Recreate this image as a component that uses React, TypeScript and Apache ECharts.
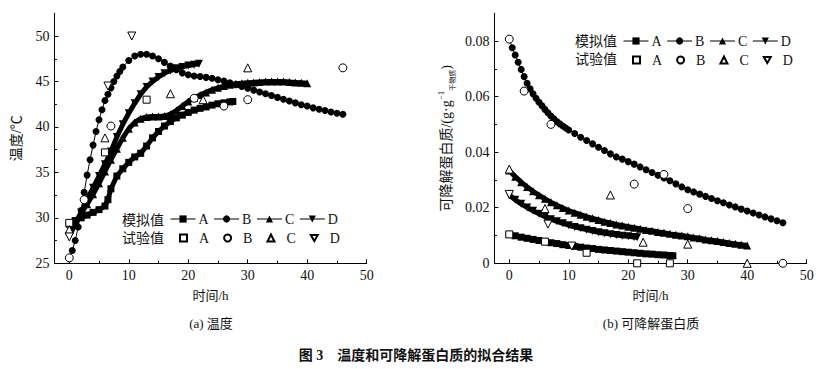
import React, { useEffect, useRef } from 'react';
import * as echarts from 'echarts';

// ---------- Data: (a) temperature ----------
const tA_T = [0, 1, 2, 3, 4, 5, 6, 6.5, 7, 8, 9, 10, 11, 12, 13, 14, 15, 16, 17, 18, 19, 20, 21, 22, 23, 24, 25, 26, 27, 27.5];
const A_T = [29.3, 29.7, 30.0, 30.3, 30.6, 30.9, 31.3, 32.0, 33.2, 34.6, 35.4, 36.1, 36.7, 37.1, 37.9, 38.8, 39.5, 40.1, 40.6, 41.0, 41.3, 41.6, 41.85, 42.05, 42.2, 42.4, 42.55, 42.65, 42.75, 42.8];

const tB_T = [0, 0.5, 1, 1.5, 2, 2.5, 3, 3.5, 4, 4.5, 5, 5.5, 6, 6.5, 7, 7.5, 8, 8.5, 9, 10, 11, 12, 13, 14, 15, 16, 17, 18, 19, 20, 21, 22, 23, 24, 25, 26, 27, 28, 29, 30, 31, 32, 33, 34, 35, 36, 37, 38, 39, 40, 41, 42, 43, 44, 45, 46];
const B_T = [25.5, 26.4, 27.5, 29.0, 30.8, 32.8, 34.7, 36.4, 38.0, 39.5, 40.8, 41.9, 42.9, 43.6, 44.3, 45.0, 45.6, 46.1, 46.6, 47.3, 47.8, 48.0, 48.0, 47.8, 47.5, 47.1, 46.7, 46.3, 45.95, 45.75, 45.6, 45.55, 45.45, 45.35, 45.2, 45.05, 44.85, 44.65, 44.45, 44.25, 44.05, 43.85, 43.65, 43.45, 43.25, 43.05, 42.85, 42.65, 42.45, 42.3, 42.1, 41.95, 41.8, 41.65, 41.5, 41.4];

const tC_T = [0, 1, 2, 3, 4, 5, 6, 7, 8, 9, 10, 11, 12, 13, 14, 15, 16, 17, 18, 19, 20, 21, 22, 23, 24, 25, 26, 27, 28, 29, 30, 31, 32, 33, 34, 35, 36, 37, 38, 39, 40];
const C_T = [28.6, 29.5, 30.5, 31.5, 32.6, 33.8, 35.1, 36.4, 37.6, 38.8, 39.8, 40.5, 40.9, 41.1, 41.15, 41.15, 41.2, 41.4, 41.8, 42.3, 42.8, 43.2, 43.5, 43.8, 44.1, 44.3, 44.5, 44.65, 44.75, 44.8, 44.85, 44.9, 44.95, 45.0, 45.0, 45.0, 45.0, 44.95, 44.9, 44.85, 44.8];

const tD_T = [0, 1, 2, 3, 4, 5, 6, 7, 8, 9, 10, 11, 12, 13, 14, 15, 16, 17, 18, 19, 20, 21, 21.8];
const D_T = [28.0, 29.3, 30.6, 32.0, 33.3, 34.6, 35.9, 37.3, 38.9, 40.3, 41.5, 42.6, 43.6, 44.4, 45.0, 45.5, 45.9, 46.2, 46.45, 46.6, 46.75, 46.85, 46.95];

const expA_T = [[0, 29.45], [6, 37.2], [13, 43.0]];
const expB_T = [[0, 25.6], [2.5, 32.0], [7, 40.1], [21, 43.15], [26, 42.3], [30, 43.0], [46, 46.5]];
const expC_T = [[0, 28.7], [6, 38.8], [17, 43.65], [22.5, 43.0], [30, 46.5]];
const expD_T = [[0, 27.9], [6.5, 44.5], [10.5, 50.0]];

// ---------- Data: (b) degradable protein ----------
const tA_P = [0, 1, 2, 3, 4, 5, 6, 7, 8, 9, 10, 11, 12, 13, 14, 15, 16, 17, 18, 19, 20, 21, 22, 23, 24, 25, 26, 27, 27.5];
const A_P = [0.0104, 0.0099, 0.0094, 0.0090, 0.0086, 0.0082, 0.0078, 0.0074, 0.0071, 0.0067, 0.0064, 0.0061, 0.0058, 0.0055, 0.0053, 0.0050, 0.0048, 0.0046, 0.0044, 0.0042, 0.0040, 0.0038, 0.0036, 0.0034, 0.0033, 0.0031, 0.0030, 0.0028, 0.0027];

const tB_P = [0, 0.5, 1, 1.5, 2, 2.5, 3, 3.5, 4, 4.5, 5, 5.5, 6, 6.5, 7, 7.5, 8, 8.5, 9, 9.5, 10, 11, 12, 13, 14, 15, 16, 17, 18, 19, 20, 21, 22, 23, 24, 25, 26, 27, 28, 29, 30, 31, 32, 33, 34, 35, 36, 37, 38, 39, 40, 41, 42, 43, 44, 45, 46];
const B_P = [0.0808, 0.0776, 0.0750, 0.0724, 0.0698, 0.0672, 0.0648, 0.0628, 0.0610, 0.0594, 0.0580, 0.0567, 0.0554, 0.0542, 0.0530, 0.0520, 0.0510, 0.0502, 0.0494, 0.0487, 0.0480, 0.0467, 0.0454, 0.0442, 0.0430, 0.0418, 0.0406, 0.0394, 0.0383, 0.0375, 0.0366, 0.0357, 0.0347, 0.0337, 0.0327, 0.0317, 0.0307, 0.0297, 0.0286, 0.0275, 0.0265, 0.0257, 0.0249, 0.0241, 0.0233, 0.0225, 0.0218, 0.0210, 0.0203, 0.0195, 0.0188, 0.0181, 0.0174, 0.0167, 0.0160, 0.0153, 0.0146];

const tC_P = [0, 1, 2, 3, 4, 5, 6, 7, 8, 9, 10, 11, 12, 13, 14, 15, 16, 17, 18, 19, 20, 21, 22, 23, 24, 25, 26, 27, 28, 29, 30, 31, 32, 33, 34, 35, 36, 37, 38, 39, 40];
const C_P = [0.0334, 0.0312, 0.0292, 0.0275, 0.0259, 0.0245, 0.0232, 0.0220, 0.0209, 0.0199, 0.0190, 0.0182, 0.0175, 0.0168, 0.0162, 0.0156, 0.0150, 0.0145, 0.0140, 0.0136, 0.0132, 0.0128, 0.0124, 0.0120, 0.0117, 0.0113, 0.0110, 0.0106, 0.0103, 0.0100, 0.0097, 0.0093, 0.0090, 0.0086, 0.0083, 0.0080, 0.0077, 0.0073, 0.0070, 0.0067, 0.0064];

const tD_P = [0, 1, 2, 3, 4, 5, 6, 7, 8, 9, 10, 11, 12, 13, 14, 15, 16, 17, 18, 19, 20, 21, 21.5];
const D_P = [0.0246, 0.0229, 0.0214, 0.0201, 0.0189, 0.0178, 0.0168, 0.0159, 0.0151, 0.0144, 0.0137, 0.0131, 0.0126, 0.0121, 0.0116, 0.0112, 0.0108, 0.0105, 0.0102, 0.0099, 0.0097, 0.0095, 0.0094];

const expA_P = [[0, 0.0104], [6, 0.0078], [13, 0.0038], [21.5, 0], [27, 0]];
const expB_P = [[0, 0.0807], [2.5, 0.062], [7, 0.050], [21, 0.0285], [26, 0.032], [30, 0.0197], [46, 0]];
const expC_P = [[0, 0.0339], [6, 0.0197], [17, 0.0246], [22.5, 0.0076], [30, 0.0069], [40, 0]];
const expD_P = [[0, 0.0248], [6.5, 0.0141], [10.5, 0.0062]];

// ---------- Ticks / labels ----------
const xMajor = [0, 10, 20, 30, 40, 50];
const xMinor = [5, 15, 25, 35, 45];
const yTMajor = [25, 30, 35, 40, 45, 50];
const yTMinor = [27.5, 32.5, 37.5, 42.5, 47.5];
const yPMajor = [0, 0.02, 0.04, 0.06, 0.08];
const yPMinor = [0.01, 0.03, 0.05, 0.07];
const keys = ['A', 'B', 'C', 'D'];

const FONT = '"Liberation Serif", "Times New Roman", "Noto Sans CJK SC", serif';
const INK = '#111';

const zip = (ts: number[], vs: number[]) => ts.map((t, i) => [t, vs[i]]);

const modelSym: Record<string, { s: string; r: number; size: number }> = {
  A: { s: 'rect', r: 0, size: 7 },
  B: { s: 'circle', r: 0, size: 7 },
  C: { s: 'triangle', r: 0, size: 8 },
  D: { s: 'triangle', r: 180, size: 8 },
};
const expSym: Record<string, { s: string; r: number; size: number }> = {
  A: { s: 'rect', r: 0, size: 7 },
  B: { s: 'circle', r: 0, size: 8 },
  C: { s: 'triangle', r: 0, size: 8 },
  D: { s: 'triangle', r: 180, size: 8 },
};

function modelSeries(k: string, data: number[][], xi: number, yi: number) {
  const m = modelSym[k];
  return {
    type: 'line', name: '模拟值' + k, xAxisIndex: xi, yAxisIndex: yi, data,
    symbol: m.s, symbolRotate: m.r, symbolSize: m.size, showSymbol: true,
    lineStyle: { color: '#000', width: k === 'B' ? 1 : 5 },
    itemStyle: { color: '#000', opacity: 1 }, z: 2,
  };
}
function expSeries(k: string, data: number[][], xi: number, yi: number) {
  const m = expSym[k];
  return {
    type: 'scatter', name: '试验值' + k, xAxisIndex: xi, yAxisIndex: yi, data,
    symbol: m.s, symbolRotate: m.r, symbolSize: m.size,
    itemStyle: { color: '#fff', borderColor: '#000', borderWidth: 1, opacity: 1 }, z: 5,
  };
}

function xAxes(gridIndex: number) {
  return [
    {
      type: 'value', gridIndex, min: -2.5, max: 50, name: '时间/h', nameLocation: 'middle', nameGap: 26,
      nameTextStyle: { fontSize: 13, color: INK, fontFamily: FONT },
      axisLine: { show: true, onZero: false, lineStyle: { color: '#000', width: 1 } },
      axisTick: { show: true, inside: true, length: 4, customValues: xMajor, lineStyle: { color: '#000' } },
      axisLabel: { customValues: xMajor, fontSize: 14, color: INK, fontFamily: FONT, margin: 5 },
      splitLine: { show: false },
    },
    {
      type: 'value', gridIndex, min: -2.5, max: 50, position: 'bottom',
      axisLine: { show: false, onZero: false },
      axisTick: { show: true, inside: true, length: 2.5, customValues: xMinor, lineStyle: { color: '#000' } },
      axisLabel: { show: false }, splitLine: { show: false },
    },
  ];
}
function yAxes(gridIndex: number, min: number, max: number, major: number[], minor: number[], name: string, nameGap: number, rich?: any) {
  return [
    {
      type: 'value', gridIndex, min, max, name, nameLocation: 'middle', nameGap,
      nameTextStyle: { fontSize: 14, color: INK, fontFamily: FONT, rich },
      axisLine: { show: true, onZero: false, lineStyle: { color: '#000', width: 1 } },
      axisTick: { show: true, inside: true, length: 4, customValues: major, lineStyle: { color: '#000' } },
      axisLabel: { customValues: major, fontSize: 14, color: INK, fontFamily: FONT, margin: 5 },
      splitLine: { show: false },
    },
    {
      type: 'value', gridIndex, min, max, position: 'left',
      axisLine: { show: false, onZero: false },
      axisTick: { show: true, inside: true, length: 2.5, customValues: minor, lineStyle: { color: '#000' } },
      axisLabel: { show: false }, splitLine: { show: false },
    },
  ];
}

// model legend: 25px line icon; experiment legend: small icon centred in the same slot
function legendModel(left: number, top: number) {
  return {
    left, top, padding: 0, orient: 'horizontal', itemWidth: 25, itemHeight: 9, itemGap: 5,
    selectedMode: false, data: keys.map((k) => '模拟值' + k),
    formatter: (n: string) => n.slice(-1),
    textStyle: { fontSize: 14, color: INK, fontFamily: FONT, padding: [0, 0, 0, -2] },
    lineStyle: { width: 1, color: '#000' },
  };
}
function legendExp(left: number, top: number) {
  return {
    left: left + 9, top, padding: 0, orient: 'horizontal', itemWidth: 7, itemHeight: 7, itemGap: 14,
    selectedMode: false,
    data: keys.map((k) => (k === 'D' ? { name: '试验值D', icon: 'path://M0,0L10,0L5,8.66Z' } : '试验值' + k)),
    formatter: (n: string) => n.slice(-1),
    textStyle: { fontSize: 14, color: INK, fontFamily: FONT, padding: [0, 0, 0, 7] },
  };
}

export default function App() {
  const ref = useRef<HTMLDivElement>(null);
  useEffect(() => {
    if (!ref.current) return;
    const chart = echarts.init(ref.current, undefined, { renderer: 'svg' });
    const textStyle = (x: number, y: number, text: string, align = 'center', extra: any = {}) => ({
      type: 'text', x, y,
      style: { text, fill: INK, font: `14px ${FONT}`, textAlign: align, textVerticalAlign: 'middle', ...extra },
    });
    const option: any = {
      animation: false,
      backgroundColor: '#fff',
      grid: [
        { left: 54.4, top: 13.3, width: 312.3, height: 250 },
        { left: 494.4, top: 13.3, width: 312.3, height: 250 },
      ],
      xAxis: [...xAxes(0), ...xAxes(1)],
      yAxis: [
        ...yAxes(0, 25, 52.5, yTMajor, yTMinor, '温度/℃', 31),
        ...yAxes(1, 0, 0.09, yPMajor, yPMinor, '{a|可降解蛋白质/(g·g}{sup|−1}{sub|干物质}{a|)}', 38, {
          a: { fontSize: 14, fontFamily: FONT, color: INK, lineHeight: 20 },
          sup: { fontSize: 9, fontFamily: FONT, color: INK, verticalAlign: 'top', lineHeight: 20 },
          sub: { fontSize: 7, fontFamily: FONT, color: INK, verticalAlign: 'bottom', lineHeight: 20 },
        }),
      ],
      legend: [
        legendModel(170, 212),
        legendExp(170, 231),
        legendModel(623, 34),
        legendExp(623, 53),
      ],
      series: [
        modelSeries('A', zip(tA_T, A_T), 0, 0),
        modelSeries('B', zip(tB_T, B_T), 0, 0),
        modelSeries('C', zip(tC_T, C_T), 0, 0),
        modelSeries('D', zip(tD_T, D_T), 0, 0),
        expSeries('A', expA_T, 0, 0),
        expSeries('B', expB_T, 0, 0),
        expSeries('C', expC_T, 0, 0),
        expSeries('D', expD_T, 0, 0),
        modelSeries('A', zip(tA_P, A_P), 2, 2),
        modelSeries('B', zip(tB_P, B_P), 2, 2),
        modelSeries('C', zip(tC_P, C_P), 2, 2),
        modelSeries('D', zip(tD_P, D_P), 2, 2),
        expSeries('A', expA_P, 2, 2),
        expSeries('B', expB_P, 2, 2),
        expSeries('C', expC_P, 2, 2),
        expSeries('D', expD_P, 2, 2),
      ],
      graphic: [
        textStyle(164, 220, '模拟值', 'right'),
        textStyle(164, 238, '试验值', 'right'),
        textStyle(617, 41, '模拟值', 'right'),
        textStyle(617, 59, '试验值', 'right'),
        textStyle(211, 323, '(a) 温度', 'center', { font: `13px ${FONT}` }),
        textStyle(651, 323, '(b) 可降解蛋白质', 'center', { font: `13px ${FONT}` }),
        textStyle(416, 355, '图 3　温度和可降解蛋白质的拟合结果', 'center', { font: `bold 14px ${FONT}` }),
      ],
    };
    chart.setOption(option);
    return () => chart.dispose();
  }, []);
  return <div ref={ref} style={{ position: 'fixed', left: 0, top: 0, width: 832, height: 369, background: '#fff' }} />;
}
